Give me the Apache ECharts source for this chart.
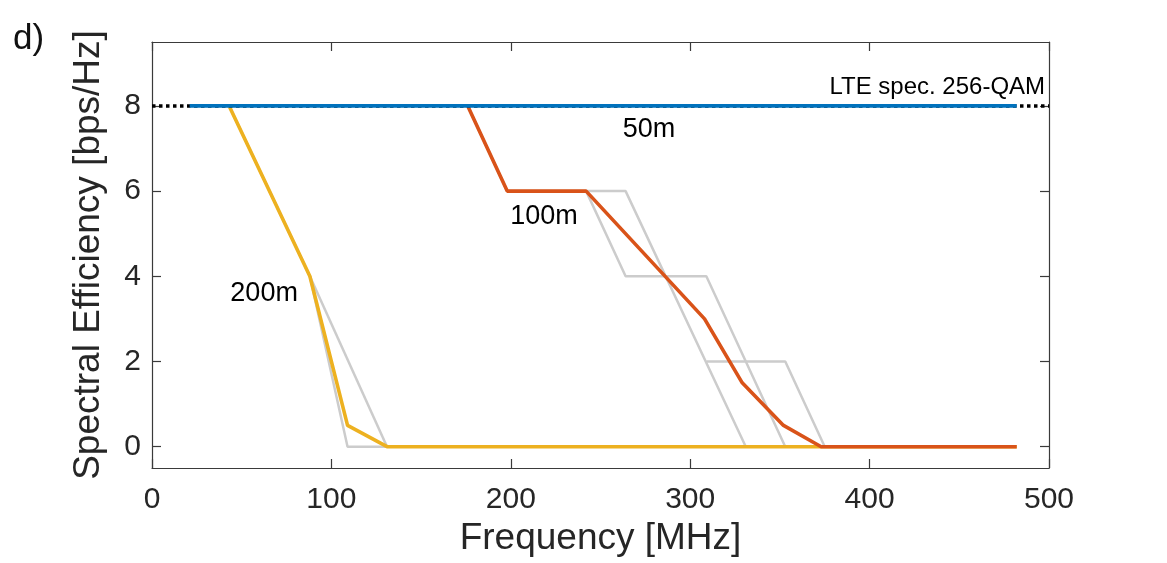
<!DOCTYPE html>
<html>
<head>
<meta charset="utf-8">
<script src="https://cdn.jsdelivr.net/npm/echarts@6/dist/echarts.min.js"></script>
<style>
  html, body { margin: 0; padding: 0; background: #fff; }
  #main { width: 1167px; height: 563px; }
</style>
</head>
<body>
<div id="main"></div>
<script>
// data: [frequency MHz, spectral efficiency bps/Hz]
var lteSpec = [[0, 8], [500, 8]];
var eff50m = [[21, 8], [482, 8]];
var eff100m = [[176, 8], [198, 6], [242, 6], [308, 3], [329, 1.5], [352, 0.5], [373, 0], [482, 0]];
var eff200m = [[43, 8], [88, 4], [109, 0.5], [131, 0], [482, 0]];
// grey variants behind the coloured curves
var grey200a = [[43, 8], [88, 4], [109, 0], [131, 0]];
var grey200b = [[88, 4], [131, 0]];
var grey100a = [[176, 8], [198, 6], [264, 6], [331, 0]];
var grey100b = [[242, 6], [264, 4], [309, 4], [353, 0]];
var grey100c = [[309, 2], [353, 2], [375, 0]];

var yTicks = [0, 2, 4, 6, 8];
var curveLabels = [
    {name: 'LTE spec. 256-QAM', value: [497.8, 8.43], align: 'right'},
    {name: '50m', value: [277, 7.44], align: 'center'},
    {name: '100m', value: [218.5, 5.4], align: 'center'},
    {name: '200m', value: [62.5, 3.6], align: 'center'}
];

var myChart = echarts.init(document.getElementById('main'));

var FONT = '"Liberation Sans", Arial, sans-serif';
var AXIS_COLOR = '#3a3a3a';
var TEXT_COLOR = '#262626';

function greyLine(d) {
    return {
        type: 'line', data: d, symbol: 'none', silent: true,
        lineStyle: {color: '#cccccc', width: 2.5}
    };
}

function plainAxis(pos) {
    return {
        type: 'value', position: pos, min: pos === 'top' ? 0 : -0.5, max: pos === 'top' ? 500 : 9.5,
        axisLine: {show: true, onZero: false, lineStyle: {color: AXIS_COLOR, width: 1.2}},
        axisTick: {show: true, inside: true, length: 9, lineStyle: {color: AXIS_COLOR, width: 1.2},
            customValues: pos === 'top' ? undefined : yTicks},
        axisLabel: {show: false},
        splitLine: {show: false}
    };
}

var topAxis = plainAxis('top');
topAxis.interval = 100;

option = {
    animation: false,
    backgroundColor: '#fff',
    textStyle: {fontFamily: FONT},
    grid: {left: 152, right: 118, top: 42, bottom: 95},
    graphic: [{
        type: 'text', left: 13, top: 22,
        style: {text: 'd)', fontSize: 35, fontFamily: FONT, fill: '#111'}
    }],
    xAxis: [{
        type: 'value', min: 0, max: 500, interval: 100,
        name: 'Frequency [MHz]', nameLocation: 'middle', nameGap: 48,
        nameTextStyle: {fontSize: 37, color: TEXT_COLOR, fontFamily: FONT},
        axisLine: {show: true, onZero: false, lineStyle: {color: AXIS_COLOR, width: 1.2}},
        axisTick: {show: true, inside: true, length: 9, lineStyle: {color: AXIS_COLOR, width: 1.2}},
        axisLabel: {fontSize: 30, color: TEXT_COLOR, margin: 17, fontFamily: FONT},
        splitLine: {show: false}
    }, topAxis],
    yAxis: [{
        type: 'value', min: -0.5, max: 9.5,
        name: 'Spectral Efficiency [bps/Hz]', nameLocation: 'middle', nameGap: 45,
        nameTextStyle: {fontSize: 37, color: TEXT_COLOR, fontFamily: FONT},
        axisLine: {show: true, onZero: false, lineStyle: {color: AXIS_COLOR, width: 1.2}},
        axisTick: {show: true, inside: true, length: 9, lineStyle: {color: AXIS_COLOR, width: 1.2},
            customValues: yTicks},
        axisLabel: {fontSize: 30, color: TEXT_COLOR, margin: 11, fontFamily: FONT,
            customValues: yTicks},
        splitLine: {show: false}
    }, plainAxis('right')],
    series: [
        greyLine(grey200a),
        greyLine(grey200b),
        greyLine(grey100a),
        greyLine(grey100b),
        greyLine(grey100c),
        {
            name: '200m', type: 'line', data: eff200m, symbol: 'none',
            lineStyle: {color: '#EDB120', width: 3.6}
        },
        {
            name: '100m', type: 'line', data: eff100m, symbol: 'none',
            lineStyle: {color: '#D95319', width: 3.6}
        },
        {
            name: 'LTE spec. 256-QAM', type: 'line', data: lteSpec, symbol: 'none',
            lineStyle: {color: '#000', width: 3.5, type: [3.5, 3.5]}
        },
        {
            name: '50m', type: 'line', data: eff50m, symbol: 'none',
            lineStyle: {color: '#0072BD', width: 3.6}
        },
        {
            // text annotations placed in data coordinates
            type: 'scatter', symbolSize: 0, silent: true,
            itemStyle: {opacity: 1},
            data: curveLabels.map(function (l) {
                return {
                    value: l.value,
                    label: {
                        show: true, position: 'inside', formatter: l.name,
                        align: l.align, fontSize: l.name.length > 6 ? 24 : 27,
                        color: '#000', fontFamily: FONT
                    }
                };
            })
        }
    ]
};

myChart.setOption(option);
</script>
</body>
</html>
